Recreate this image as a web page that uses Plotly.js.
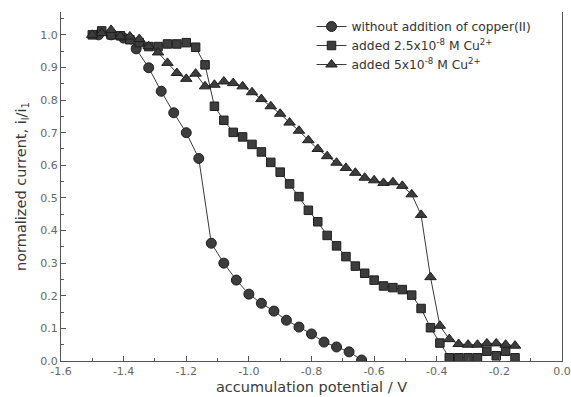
<!DOCTYPE html>
<html><head><meta charset="utf-8">
<script src="https://cdn.plot.ly/plotly-3.0.1.min.js"></script>
<style>html,body{margin:0;padding:0;background:#fff}#plot{width:571px;height:397px}</style>
</head><body><div id="plot"></div>
<script>
// without addition of copper(II)
const potCircle = [-1.48,-1.44,-1.40,-1.36,-1.32,-1.28,-1.24,-1.20,-1.16,-1.12,-1.08,-1.04,-1.00,-0.96,-0.92,-0.88,-0.84,-0.80,-0.76,-0.72,-0.68,-0.64];
const curCircle = [1.00,1.00,0.99,0.957,0.899,0.827,0.761,0.700,0.621,0.361,0.300,0.248,0.205,0.177,0.153,0.125,0.104,0.083,0.058,0.043,0.028,0.003];
// shared potential grid for copper series
const potCu = [-1.50,-1.47,-1.44,-1.41,-1.38,-1.35,-1.32,-1.29,-1.26,-1.23,-1.20,-1.17,-1.14,-1.11,-1.08,-1.05,-1.02,-0.99,-0.96,-0.93,-0.90,-0.87,-0.84,-0.81,-0.78,-0.75,-0.72,-0.69,-0.66,-0.63,-0.60,-0.57,-0.54,-0.51,-0.48,-0.45,-0.42,-0.39,-0.36,-0.33,-0.30,-0.27,-0.24,-0.21,-0.18,-0.15];
// added 2.5x10^-8 M Cu2+
const curSquare = [1.000,1.012,1.000,0.997,0.985,0.976,0.964,0.964,0.972,0.972,0.976,0.962,0.908,0.781,0.738,0.701,0.687,0.664,0.641,0.609,0.579,0.543,0.504,0.462,0.427,0.385,0.353,0.320,0.291,0.269,0.248,0.230,0.225,0.219,0.202,0.161,0.102,0.055,0.010,0.010,0.010,0.010,0.030,0.016,0.030,0.010];
// added 5x10^-8 M Cu2+
const curTriangle = [1.000,1.005,1.015,0.995,0.995,0.987,0.965,0.946,0.914,0.883,0.865,0.881,0.842,0.847,0.857,0.852,0.842,0.824,0.803,0.781,0.758,0.731,0.706,0.677,0.650,0.628,0.608,0.592,0.577,0.562,0.554,0.546,0.548,0.537,0.511,0.448,0.257,0.108,0.067,0.052,0.050,0.050,0.054,0.054,0.050,0.047];

const names = ['without addition of copper(II)','added 2.5x10<sup>-8</sup> M Cu<sup>2+</sup>','added 5x10<sup>-8</sup> M Cu<sup>2+</sup>'];
const xTicks = [-1.6,-1.4,-1.2,-1.0,-0.8,-0.6,-0.4,-0.2,0.0];
const xTickText = ['-1.6','-1.4','-1.2','-1.0','-0.8','-0.6','-0.4','-0.2','0.0'];
const yTicks = [0,0.1,0.2,0.3,0.4,0.5,0.6,0.7,0.8,0.9,1.0];
const yTickText = ['0.0','0.1','0.2','0.3','0.4','0.5','0.6','0.7','0.8','0.9','1.0'];

const FONT = 'DejaVu Sans, sans-serif';
const mk = (sym, size) => ({symbol: sym, size: size, color: '#3d3d3d', line: {color: '#1e1e1e', width: 1}});
const ln = {color: '#3a3a3a', width: 1};

const data = [
  {x: potCircle, y: curCircle, name: names[0], mode: 'lines+markers', line: ln, marker: mk('circle', 10)},
  {x: potCu, y: curSquare, name: names[1], mode: 'lines+markers', line: ln, marker: mk('square', 8.5)},
  {x: potCu, y: curTriangle, name: names[2], mode: 'lines+markers', line: ln, marker: mk('triangle-up', 10)}
];

const layout = {
  width: 571, height: 397,
  margin: {l: 61, r: 9, t: 12, b: 36},
  paper_bgcolor: '#ffffff', plot_bgcolor: '#ffffff',
  font: {family: FONT, color: '#333'},
  showlegend: true,
  legend: {x: 0.5, y: 1.0, xanchor: 'left', yanchor: 'top', bgcolor: 'rgba(0,0,0,0)',
           font: {family: FONT, size: 12.3, color: '#333'}, tracegroupgap: 0, itemwidth: 30},
  xaxis: {range: [-1.6, 0], tickmode: 'array', tickvals: xTicks, ticktext: xTickText,
          ticks: 'inside', ticklen: 5, tickcolor: '#555', showline: true, linecolor: '#555', linewidth: 1,
          mirror: false, showgrid: false, zeroline: false,
          tickfont: {family: FONT, size: 11, color: '#666'},
          minor: {dtick: 0.1, ticks: 'inside', ticklen: 3, tickcolor: '#555', showgrid: false},
          title: {text: 'accumulation potential / V', font: {family: FONT, size: 14.5, color: '#3a3a3a'}, standoff: 4}},
  yaxis: {range: [0, 1.07], tickmode: 'array', tickvals: yTicks, ticktext: yTickText,
          ticks: 'inside', ticklen: 5, tickcolor: '#555', showline: true, linecolor: '#555', linewidth: 1,
          showgrid: false, zeroline: false,
          tickfont: {family: FONT, size: 11, color: '#666'},
          minor: {dtick: 0.05, ticks: 'inside', ticklen: 3, tickcolor: '#555', showgrid: false},
          title: {text: 'normalized current, i<sub>l</sub>/i<sub>1</sub>', font: {family: FONT, size: 14.5, color: '#3a3a3a'}, standoff: 10}},
  yaxis2: {overlaying: 'y', side: 'right', range: [0, 1.07], showline: true, linecolor: '#555', linewidth: 1,
           showticklabels: false, ticks: '', showgrid: false, zeroline: false}
};
// an empty trace on the overlaying axis to show the right-hand frame line
data.push({x: [null], y: [null], yaxis: 'y2', showlegend: false, hoverinfo: 'skip'});

Plotly.newPlot('plot', data, layout, {staticPlot: true, displayModeBar: false});
</script></body></html>
